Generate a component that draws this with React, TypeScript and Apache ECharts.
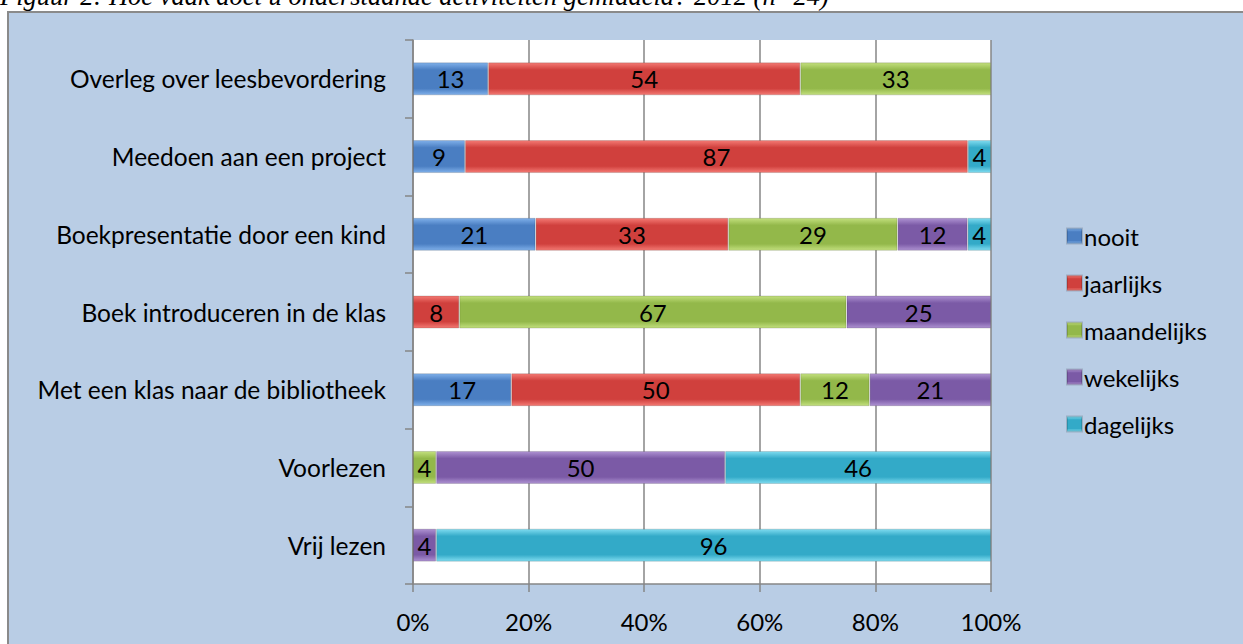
import React, { useEffect, useRef } from "react";
import * as echarts from "echarts";

const categories = [
  "Overleg over leesbevordering",
  "Meedoen aan een project",
  "Boekpresentatie door een kind",
  "Boek introduceren in de klas",
  "Met een klas naar de bibliotheek",
  "Voorlezen",
  "Vrij lezen",
];
const seriesNames = ["nooit", "jaarlijks", "maandelijks", "wekelijks", "dagelijks"];
const nooit = [13, 9, 21, null, 17, null, null];
const jaarlijks = [54, 87, 33, 8, 50, null, null];
const maandelijks = [33, null, 29, 67, 12, 4, null];
const wekelijks = [null, null, 12, 25, 21, 50, 4];
const dagelijks = [null, 4, 4, null, null, 46, 96];
const tickLabels = ["0%", "20%", "40%", "60%", "80%", "100%"];
const caption = "Figuur 2: Hoe vaak doet u onderstaande activiteiten gemiddeld? 2012 (n=24)";

const colors = [
  ["#7fb0ea", "#4a7ec2"],
  ["#f47a74", "#d0403d"],
  ["#c3e07e", "#93b84a"],
  ["#ae92d2", "#7b5aa6"],
  ["#7fdcf0", "#33aac8"],
];

export default function App() {
  const ref = useRef<HTMLDivElement>(null);
  useEffect(() => {
    if (!ref.current) return;
    const chart = echarts.init(ref.current, undefined, { renderer: "svg" });
    const all = [nooit, jaarlijks, maandelijks, wekelijks, dagelijks];
    const sums = categories.map((_, i) => all.reduce((s, arr) => s + (arr[i] ?? 0), 0));
    const font = "Lato, 'Open Sans', sans-serif";
    chart.setOption({
      animation: false,
      backgroundColor: "#ffffff",
      graphic: [
        {
          type: "rect",
          z: -10,
          shape: { x: 8, y: 12, width: 1250, height: 650 },
          style: { fill: "#b9cde5", stroke: "#8a8a8a", lineWidth: 2 },
        },
        {
          type: "text",
          x: 0,
          y: 9,
          style: {
            text: caption,
            font: "italic 26.5px 'Liberation Serif', serif",
            fill: "#000",
            verticalAlign: "bottom",
          },
        },
      ],
      grid: { left: 413, right: 252, top: 40, bottom: 60, backgroundColor: "#fff", show: true, borderWidth: 0 },
      legend: {
        orient: "vertical",
        left: 1061,
        top: 219,
        itemGap: 23,
        itemWidth: 15,
        itemHeight: 15,
        icon: "rect",
        textStyle: { fontSize: 24, lineHeight: 24, fontFamily: font, color: "#000", padding: [0, 0, 0, -3] },
        data: seriesNames,
      },
      xAxis: {
        type: "value",
        min: 0,
        max: 100,
        interval: 20,
        axisLine: { show: true, lineStyle: { color: "#868686", width: 1.5 } },
        axisTick: { show: true, length: 8, lineStyle: { color: "#868686", width: 1.5 } },
        splitLine: { show: true, lineStyle: { color: "#868686", width: 1.5 } },
        axisLabel: {
          fontSize: 24,
          fontFamily: font,
          color: "#000",
          margin: 25,
          formatter: (v: number) => tickLabels[Math.round(v / 20)],
        },
      },
      yAxis: {
        type: "category",
        inverse: true,
        data: categories,
        axisLine: { show: true, lineStyle: { color: "#868686", width: 1.5 } },
        axisTick: { show: true, length: 8, lineStyle: { color: "#868686", width: 1.5 } },
        axisLabel: { fontSize: 24.5, fontFamily: font, color: "#000", margin: 27 },
      },
      series: all.map((arr, k) => ({
        name: seriesNames[k],
        type: "bar",
        stack: "total",
        barWidth: 33,
        itemStyle: {
          color: new echarts.graphic.LinearGradient(0, 0, 0, 1, [
            { offset: 0, color: colors[k][0] },
            { offset: 0.22, color: colors[k][1] },
            { offset: 0.8, color: colors[k][1] },
            { offset: 1, color: colors[k][0] },
          ]),
          borderColor: "rgba(0,0,0,0.15)",
          borderWidth: 1,
        },
        label: {
          show: true,
          position: "inside",
          fontSize: 24,
          fontFamily: font,
          color: "#000",
          formatter: (p: any) => String(arr[p.dataIndex]),
        },
        data: arr.map((v, i) => (v == null ? null : (v / sums[i]) * 100)),
      })),
    });
    return () => chart.dispose();
  }, []);
  return (
    <div style={{ position: "fixed", left: 0, top: 0, width: 1243, height: 644 }}>
      <div ref={ref} style={{ width: 1243, height: 644 }} />
    </div>
  );
}
